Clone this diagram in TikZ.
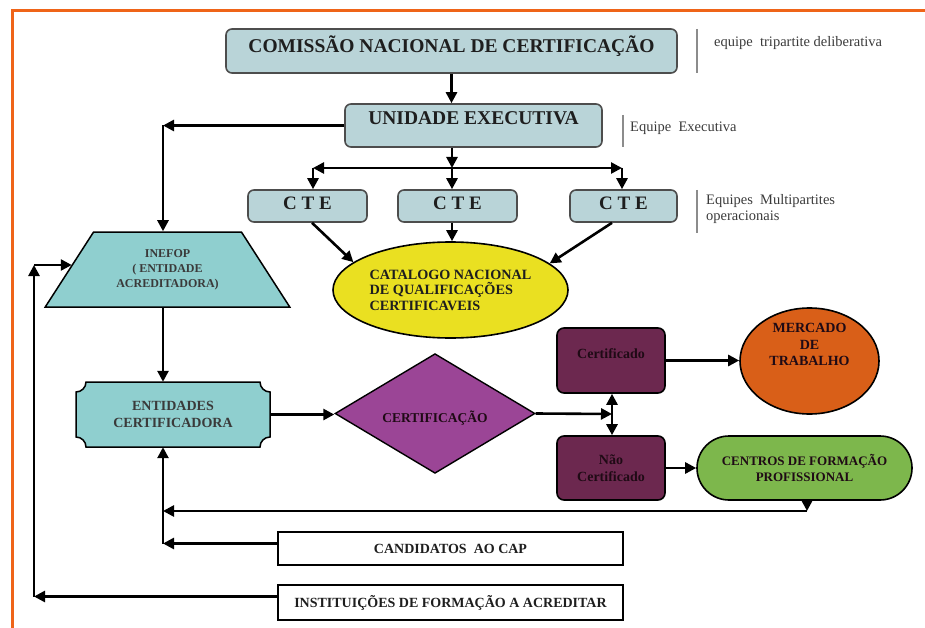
\documentclass[tikz,border=0pt]{standalone}
\usepackage{fontspec}
\setmainfont{Liberation Serif}
\usetikzlibrary{arrows.meta,shapes.geometric,shapes.misc}
\definecolor{frameor}{HTML}{EF6418}
\definecolor{boxblue}{HTML}{B9D4D8}
\definecolor{boxedge}{HTML}{4D4D4D}
\definecolor{tealf}{HTML}{8FCFCF}
\definecolor{yel}{HTML}{EAE021}
\definecolor{purp}{HTML}{9B4596}
\definecolor{maroonf}{HTML}{6C284F}
\definecolor{orng}{HTML}{D95F18}
\definecolor{grn}{HTML}{7DB74C}
\definecolor{sidegray}{HTML}{8C8C8C}
\definecolor{txtc}{HTML}{1E1E1E}
\definecolor{sidetxt}{HTML}{3A3A3A}
\definecolor{darktxt}{HTML}{1F0A15}
\newcommand\fsz[2]{\fontsize{#1}{#2}\selectfont}
\newcommand\liftt[2]{\raisebox{#1}[\height][\depth]{#2}}
\begin{document}
\begin{tikzpicture}[x=1pt,y=-1pt,
  arr/.style={line width=2.6pt, draw=black, -{Triangle[length=11pt,width=11pt]}},
  bluebox/.style={rectangle, rounded corners=6pt, draw=boxedge, line width=1.6pt, fill=boxblue, text=txtc, inner sep=0pt},
  sideln/.style={draw=sidegray, line width=2pt},
  sidetext/.style={text=sidetxt, font=\fsz{14.5}{16}, align=left, inner sep=0pt},
  darkbox/.style={rectangle, rounded corners=7pt, draw=black, line width=1.6pt, fill=maroonf, text=darktxt, inner sep=0pt, minimum width=108pt, font=\bfseries\fsz{14}{17}, align=center},
  whitebox/.style={rectangle, draw=black, line width=2.6pt, fill=white, text=txtc, inner sep=0pt, minimum width=345pt, font=\bfseries\fsz{14}{17}},
]
\useasboundingbox (0,0) rectangle (925,628);
% frame
\draw[frameor, line width=3pt] (12,628) -- (12,10.5) -- (925,10.5);

% top boxes
\node[bluebox, minimum width=451pt, minimum height=44pt, font=\bfseries\fsz{19.5}{23}] (cnc) at (451.5,51) {\liftt{5pt}{COMISSÃO NACIONAL DE CERTIFICAÇÃO}};
\node[bluebox, minimum width=257pt, minimum height=43pt, font=\bfseries\fsz{19.5}{23}] (ue) at (473.5,125.5) {\liftt{7pt}{UNIDADE EXECUTIVA}};
\node[bluebox, minimum width=119pt, minimum height=32pt, font=\bfseries\fsz{19}{22}] (cte1) at (307.5,206) {\liftt{3pt}{C T E}};
\node[bluebox, minimum width=119pt, minimum height=32pt, font=\bfseries\fsz{19}{22}] (cte2) at (457.5,206) {\liftt{3pt}{C T E}};
\node[bluebox, minimum width=107pt, minimum height=32pt, font=\bfseries\fsz{19}{22}] (cte3) at (623.5,206) {\liftt{3pt}{C T E}};

% side notes
\draw[sideln] (697,29) -- (697,73);
\node[sidetext, anchor=west] (s1) at (714,43) {equipe~ tripartite deliberativa};
\draw[sideln] (623,115) -- (623,147);
\node[sidetext, anchor=west] (s2) at (630,128) {Equipe~ Executiva};
\draw[sideln] (697,190) -- (697,233);
\node[sidetext, anchor=north west] (s3) at (706,194) {Equipes~ Multipartites\\operacionais};

% catalogue
\node[ellipse, draw=black, line width=1.6pt, fill=yel, minimum width=235pt, minimum height=96pt, inner sep=0pt, align=left, text=txtc, font=\bfseries\fsz{14.2}{15.5}] (cat) at (450.5,290) {CATALOGO NACIONAL\\DE QUALIFICAÇÕES\\CERTIFICAVEIS};

% INEFOP
\node[trapezium, trapezium left angle=50.4, trapezium right angle=50.4, trapezium stretches=true, minimum width=245pt, minimum height=75pt, draw=black, line width=1.5pt, fill=tealf, inner sep=0pt, align=center, text=sidetxt, font=\bfseries\fsz{12}{15}] (inef) at (167.5,269.5) {INEFOP\\( ENTIDADE\\ACREDITADORA)};

% ENTIDADES plaque
\draw[fill=tealf, line width=1.5pt] (86,382) -- (260,382) .. controls (260,387.5) and (264.5,392) .. (270,392) -- (270,437) .. controls (264.5,437) and (260,441.5) .. (260,447) -- (86,447) .. controls (86,441.5) and (81.5,437) .. (76,437) -- (76,392) .. controls (81.5,392) and (86,387.5) .. (86,382) -- cycle;
\node[rectangle, minimum width=194pt, minimum height=65pt, inner sep=0pt, align=center, text=sidetxt, font=\bfseries\fsz{14}{17}] (ent) at (173,414.5) {ENTIDADES\\CERTIFICADORA};

% certification diamond
\node[diamond, minimum width=200pt, minimum height=107pt, inner sep=0pt, draw=black, line width=1.4pt, fill=purp, text=darktxt, font=\bfseries\fsz{13.5}{16}] (dia) at (435,413.5) {\liftt{-5pt}{CERTIFICAÇÃO}};

% results
\node[darkbox, minimum height=65pt] (cert) at (611,360.5) {\liftt{7pt}{Certificado}};
\node[darkbox, minimum height=64pt] (nao) at (611,468) {Não\\Certificado};
\node[ellipse, draw=black, line width=1.6pt, fill=orng, minimum width=139pt, minimum height=106pt, inner sep=0pt, text=darktxt, font=\bfseries\fsz{14}{16.5}] (merc) at (809.5,361) {\liftt{15pt}{\begin{tabular}{@{}c@{}}MERCADO\\DE\\TRABALHO\end{tabular}}};
\node[rounded rectangle, draw=black, line width=1.6pt, fill=grn, minimum width=215pt, minimum height=64pt, inner sep=0pt, align=center, text=darktxt, font=\bfseries\fsz{13}{16}] (cfp) at (804.5,468) {CENTROS DE FORMAÇÃO\\PROFISSIONAL};

% bottom boxes
\node[whitebox, minimum height=33pt] (cand) at (450.5,548.5) {CANDIDATOS~ AO CAP};
\node[whitebox, minimum height=35pt] (insti) at (450.5,602.5) {INSTITUIÇÕES DE FORMAÇÃO A ACREDITAR};

% helper coordinates
\coordinate (vx) at (163,0);
\coordinate (br) at (452,168);
\coordinate (bl) at (313,168);
\coordinate (bR) at (622,168);
\coordinate (jn) at (612,414);
\coordinate (c1) at (807,511);
\coordinate (candw) at ([yshift=5pt]cand.west);
\coordinate (instw) at ([yshift=6pt]insti.west);
\coordinate (cA) at (34,596.5);
\coordinate (cB) at (34,265);

% connectors
\draw[arr] (cnc.south) -- (cnc.south |- ue.north);
\draw[arr] (br |- ue.south) -- (br);
\draw[arr] (br) -- (br |- cte2.north);
\draw[arr] (br) -- (bl);
\draw[arr] (bl) -- (bl |- cte1.north);
\draw[arr] (br) -- (bR);
\draw[arr] (bR) -- (bR |- cte3.north);
\draw[arr] ([xshift=4.5pt]cte1.south) -- (cat.164);
\draw[arr] (cte2.south -| br) -- (cat.north -| br);
\draw[arr] ([xshift=-11.5pt]cte3.south) -- (cat.15);
\draw[arr] (ue.west) -- (vx |- ue.west);
\draw[arr] (vx |- ue.west) -- (vx |- inef.north);
\draw[arr] (vx |- inef.south) -- (vx |- ent.north);
\draw[arr] (ent.east) -- (ent.east -| dia.west);
\draw[arr] (dia.east) -- (jn);
\draw[arr] (jn) -- (jn |- cert.south);
\draw[arr] (jn) -- (jn |- nao.north);
\draw[arr] (cert.east) -- (cert.east -| merc.west);
\draw[arr] (nao.east) -- (nao.east -| cfp.west);
\draw[arr] (cfp.south -| c1) -- (c1);
\draw[arr] (c1) -- (vx |- c1);
\draw[arr] (candw) -- (vx |- candw);
\draw[arr] (vx |- candw) -- (vx |- ent.south);
\draw[arr] (instw) -- (cA);
\draw[arr] (cA) -- (cB);
\draw[arr] (cB) -- (cB -| inef.177);
\end{tikzpicture}
\end{document}
